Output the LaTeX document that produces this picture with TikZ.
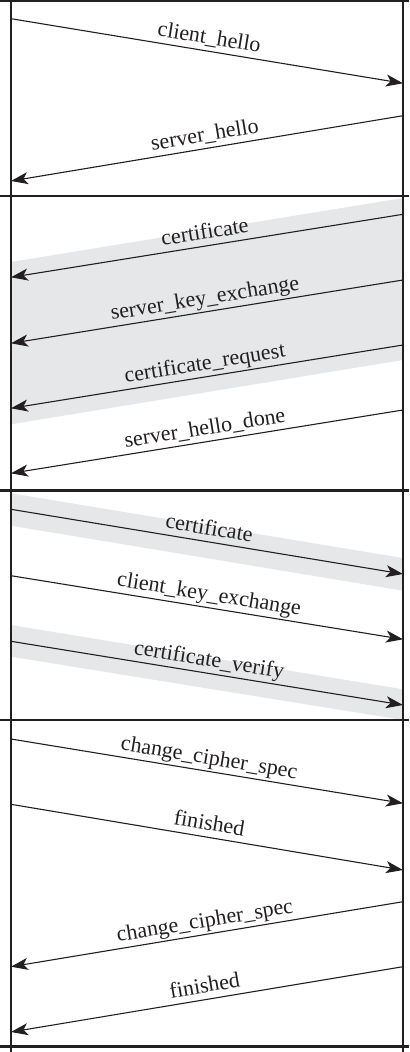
\documentclass[tikz,border=0pt]{standalone}
\usepackage{fontspec}
\setmainfont{Liberation Serif}
\usetikzlibrary{arrows.meta}
\definecolor{bandgray}{RGB}{230,231,233}
\definecolor{ink}{RGB}{35,31,32}
\begin{document}
\begin{tikzpicture}[x=0.5pt,y=-0.5pt]
    \tikzset{msg/.style={draw=ink,line width=0.55pt,-{Stealth[length=8.5pt,width=6pt,inset=2.2pt]}},
             lane/.style={draw=ink,line width=1.4pt},
             lbl/.style={midway,sloped,above=3.2pt,inner sep=0pt,text depth=0pt,text=ink,font=\fontsize{11}{13}\selectfont}};
    \useasboundingbox (0,0) rectangle (409,1052);
    % shaded bands
    \fill[bandgray] (11,262) -- (403,198) -- (403,360) -- (11,424.3) -- cycle;
    \fill[bandgray] (11,493.3) -- (403,558) -- (403,590.7) -- (11,525.7) -- cycle;
    \fill[bandgray] (11,625) -- (403,689.3) -- (403,720) -- (11,656.7) -- cycle;
    % client and server lines
    \draw[lane] (11,0) -- (11,1052);
    \draw[lane] (403,0) -- (403,1052);
    \foreach \y in {1,196,490.7,720,1046.7}
        \draw[lane] (0,\y) -- (409,\y);
    % message end points
    \coordinate (c1) at (11,18.7);   \coordinate (s1) at (403,83.3);
    \coordinate (c2) at (11,181);    \coordinate (s2) at (403,115.7);
    \coordinate (c3) at (11,277.3);  \coordinate (s3) at (403,214.3);
    \coordinate (c4) at (11,343.3);  \coordinate (s4) at (403,280);
    \coordinate (c5) at (11,408.3);  \coordinate (s5) at (403,345);
    \coordinate (c6) at (11,473.3);  \coordinate (s6) at (403,410);
    \coordinate (c7) at (11,509.3);  \coordinate (s7) at (403,574);
    \coordinate (c8) at (11,575.7);  \coordinate (s8) at (403,639.3);
    \coordinate (c9) at (11,641.3);  \coordinate (s9) at (403,705);
    \coordinate (c10) at (11,739);   \coordinate (s10) at (403,803.3);
    \coordinate (c11) at (11,804.3); \coordinate (s11) at (403,870);
    \coordinate (c12) at (11,966.7); \coordinate (s12) at (403,901.7);
    \coordinate (c13) at (11,1032);  \coordinate (s13) at (403,966.7);
    % messages
    \draw[msg] (c1) -- (s1) node[lbl] {client\_hello};
    \draw[msg] (s2) -- (c2) node[lbl] {server\_hello};
    \draw[msg] (s3) -- (c3) node[lbl] {certificate};
    \draw[msg] (s4) -- (c4) node[lbl] {server\_key\_exchange};
    \draw[msg] (s5) -- (c5) node[lbl] {certificate\_request};
    \draw[msg] (s6) -- (c6) node[lbl] {server\_hello\_done};
    \draw[msg] (c7) -- (s7) node[lbl] {certificate};
    \draw[msg] (c8) -- (s8) node[lbl] {client\_key\_exchange};
    \draw[msg] (c9) -- (s9) node[lbl] {certificate\_verify};
    \draw[msg] (c10) -- (s10) node[lbl] {change\_cipher\_spec};
    \draw[msg] (c11) -- (s11) node[lbl] {finished};
    \draw[msg] (s12) -- (c12) node[lbl] {change\_cipher\_spec};
    \draw[msg] (s13) -- (c13) node[lbl] {finished};
\end{tikzpicture}
\end{document}
